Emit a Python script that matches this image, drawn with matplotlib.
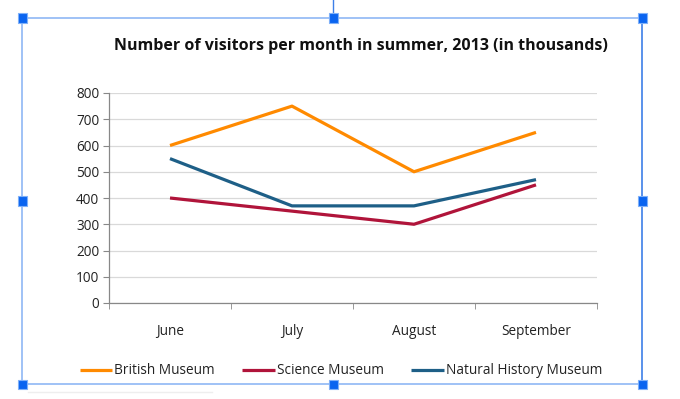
import matplotlib.pyplot as plt
from matplotlib.patches import Rectangle
from matplotlib.lines import Line2D

months = ['June', 'July', 'August', 'September']
british = [600, 750, 500, 650]
science = [400, 350, 300, 450]
natural = [550, 370, 370, 470]
yticks = [0, 100, 200, 300, 400, 500, 600, 700, 800]

W, H = 680, 399
plt.rcParams['font.family'] = ['Open Sans', 'DejaVu Sans']

fig = plt.figure(figsize=(W / 100, H / 100), dpi=100)
fig.patch.set_facecolor('white')

ax = fig.add_axes([109 / W, 1 - 303 / H, (597 - 109) / W, (303 - 93) / H])
x = range(len(months))
ax.plot(x, british, color='#FF8A00', lw=2.3, label='British Museum', solid_capstyle='butt')
ax.plot(x, science, color='#B0143A', lw=2.3, label='Science Museum', solid_capstyle='butt')
ax.plot(x, natural, color='#1E5F87', lw=2.3, label='Natural History Museum', solid_capstyle='butt')

ax.set_xlim(-0.5, 3.5)
ax.set_ylim(0, 800)
ax.set_yticks(yticks)
ax.set_xticks(list(x))
ax.set_xticklabels(months)
ax.set_xticks([-0.5, 0.5, 1.5, 2.5, 3.5], minor=True)
ax.tick_params(axis='x', which='major', length=0, pad=15, labelsize=9.8, colors='#222222')
ax.tick_params(axis='x', which='minor', length=4, color='#888888', direction='out')
ax.tick_params(axis='y', length=4, color='#888888', labelsize=9.8, labelcolor='#222222', pad=3)
ax.grid(axis='y', color='#d9d9d9', lw=0.9)
ax.set_axisbelow(True)
for s in ['top', 'right']:
    ax.spines[s].set_visible(False)
for s in ['left', 'bottom']:
    ax.spines[s].set_color('#888888')
    ax.spines[s].set_linewidth(0.9)

fig.text(361 / W, 1 - 46 / H, 'Number of visitors per month in summer, 2013 (in thousands)',
         ha='center', va='center', fontsize=11.5, fontweight='bold', color='#111111')

fig.legend(loc='center', bbox_to_anchor=(341 / W, 1 - 371 / H), ncol=3, frameon=False,
           fontsize=9.8, handlelength=2.4, handletextpad=0.15, columnspacing=2.0,
           labelcolor='#222222')

# selection frame
tf = fig.transFigure
light = '#8fb8f5'
fig.add_artist(Line2D([22 / W, 642 / W], [1 - 18 / H, 1 - 18 / H], color=light, lw=1.2, transform=tf))
fig.add_artist(Line2D([22 / W, 642 / W], [1 - 384 / H, 1 - 384 / H], color=light, lw=1.2, transform=tf))
fig.add_artist(Line2D([22 / W, 22 / W], [1 - 18 / H, 1 - 384 / H], color=light, lw=1.2, transform=tf))
fig.add_artist(Line2D([642 / W, 642 / W], [1 - 18 / H, 1 - 384 / H], color='#3d7fe8', lw=1.2, transform=tf))
fig.add_artist(Line2D([333 / W, 333 / W], [1.0, 1 - 18 / H], color='#3d7fe8', lw=1.0, transform=tf))
fig.add_artist(Line2D([28 / W, 212 / W], [1 - 392 / H, 1 - 392 / H], color='#eeeeee', lw=1.0, transform=tf))
for hx, hy in [(22, 18), (333, 18), (642, 18), (22, 201), (642, 201), (22, 384), (333, 384), (642, 384)]:
    fig.add_artist(Rectangle(((hx - 4.5) / W, 1 - (hy + 4.5) / H), 9 / W, 9 / H, transform=tf,
                             facecolor='#0a64f0', edgecolor='#7fb0f8', lw=0.8, zorder=10))

fig.savefig('out.png', dpi=100)
